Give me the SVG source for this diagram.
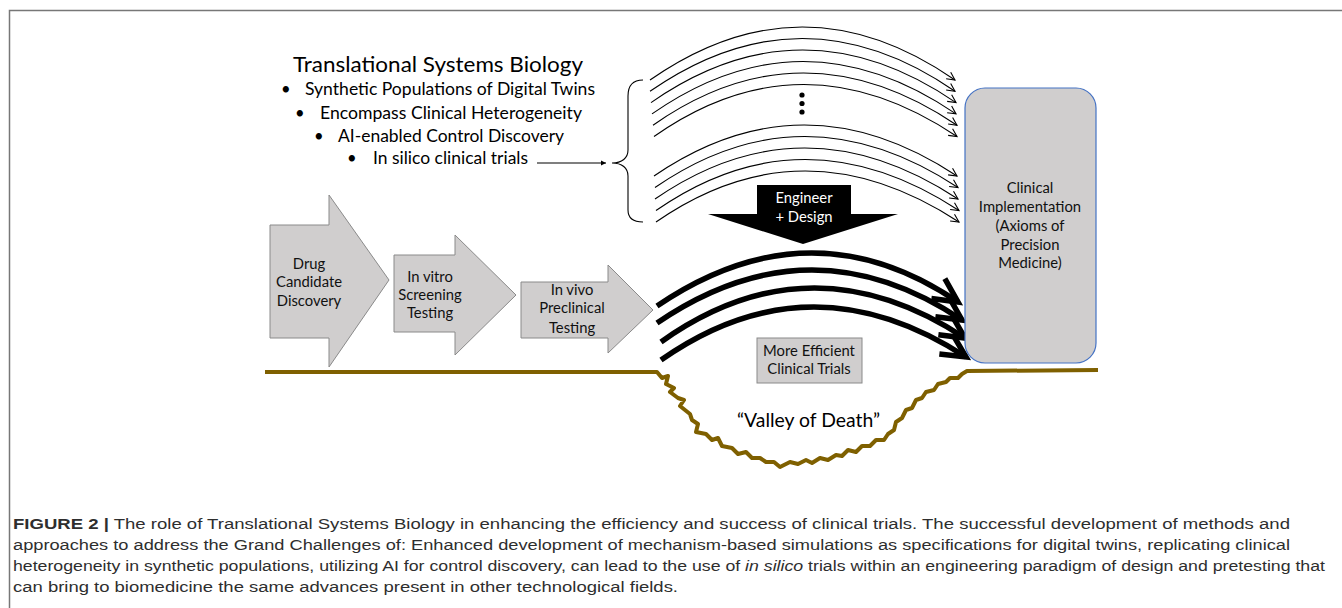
<svg xmlns="http://www.w3.org/2000/svg" width="1342" height="608" viewBox="0 0 1342 608">
<style>
.t{font-family:Lato,"Open Sans","Liberation Sans",sans-serif;fill:#000}
.lbl{font-family:Lato,"Open Sans","Liberation Sans",sans-serif;font-size:14.8px;fill:#111;text-anchor:middle}
.cap{font-family:"Liberation Sans",Arial,sans-serif;font-size:15.5px;fill:#2e2e2e}
.gbox{fill:#d0cece;stroke:#8a8a8a;stroke-width:1}
.thin{fill:none;stroke:#000;stroke-width:1.1;marker-end:url(#ah)}
.thick{fill:none;stroke:#000;stroke-width:5.5;marker-end:url(#ahT)}
.ground{fill:none;stroke:#7f6000;stroke-width:4;stroke-linejoin:round}
</style>
<defs>
<marker id="ah" markerUnits="userSpaceOnUse" markerWidth="14" markerHeight="12" viewBox="-10 -6 12 12" refX="0" refY="0" orient="auto">
<path d="M-8,-4 L0,0 L-8,4" fill="none" stroke="#000" stroke-width="1.1"/>
</marker>
<marker id="ahs" markerUnits="userSpaceOnUse" markerWidth="8" markerHeight="8" viewBox="-6 -4 8 8" refX="0" refY="0" orient="auto">
<path d="M-5,-2.5 L0,0 L-5,2.5 Z" fill="#000"/>
</marker>
<marker id="ahT" markerUnits="userSpaceOnUse" markerWidth="34" markerHeight="34" viewBox="-28 -17 34 34" refX="0" refY="0" orient="auto">
<path d="M-24,-12 L0,0 L-24,12" fill="none" stroke="#000" stroke-width="5.5" stroke-linejoin="miter"/>
</marker>
</defs>
<rect width="1342" height="608" fill="#fff"/>
<path d="M9.5,608 V10.5 H1342" fill="none" stroke="#777" stroke-width="1.5"/>

<g id="tsb-text">
<text class="t" x="293" y="72" font-size="22" textLength="290" lengthAdjust="spacingAndGlyphs">Translational Systems Biology</text>
<text class="t" x="281" y="95" font-size="16.6">•</text>
<text class="t" x="305" y="95" font-size="16.6" textLength="290" lengthAdjust="spacingAndGlyphs">Synthetic Populations of Digital Twins</text>
<text class="t" x="295" y="119" font-size="16.6">•</text>
<text class="t" x="320" y="119" font-size="16.6" textLength="262" lengthAdjust="spacingAndGlyphs">Encompass Clinical Heterogeneity</text>
<text class="t" x="314" y="142" font-size="16.6">•</text>
<text class="t" x="338" y="142" font-size="16.6" textLength="226" lengthAdjust="spacingAndGlyphs">AI-enabled Control Discovery</text>
<text class="t" x="347" y="164" font-size="16.6">•</text>
<text class="t" x="373" y="164" font-size="16.6" textLength="155" lengthAdjust="spacingAndGlyphs">In silico clinical trials</text>
</g>

<g id="bracket">
<path d="M643,80 C633,80 628,86 628,96 L628,150 C628,158 622,163 612,163 C622,163 628,168 628,176 L628,210 C628,218 633,222 643,222" fill="none" stroke="#000" stroke-width="1.1"/>
</g>

<g id="dots">
<circle cx="802" cy="95" r="2.6" fill="#000"/>
<circle cx="802" cy="103.5" r="2.6" fill="#000"/>
<circle cx="802" cy="112" r="2.6" fill="#000"/>
</g>

<g id="connectors">
<line x1="537" y1="163" x2="606" y2="163" stroke="#000" stroke-width="1.1" marker-end="url(#ahs)"/>
<path class="thin" d="M650,80 Q802,-26 955,80"/>
<path class="thin" d="M650,91.3 Q802,-14.3 955,91.3"/>
<path class="thin" d="M651,102.6 Q802,-2.6 956,102.6"/>
<path class="thin" d="M652,113.9 Q802,9.1 956,113.9"/>
<path class="thin" d="M653,125.2 Q802,20.8 957,125.2"/>
<path class="thin" d="M654,136.5 Q802,32.5 957,136.5"/>
<path class="thin" d="M654,176 Q803,74 957,176"/>
<path class="thin" d="M655,187.5 Q803,85.5 958,187.5"/>
<path class="thin" d="M655,199 Q803,97 958,199"/>
<path class="thin" d="M656,210.5 Q803,108.5 959,210.5"/>
<path class="thin" d="M656,222 Q803,120 959,222"/>
<path class="thick" d="M657,306 Q810,202 958,302"/>
<path class="thick" d="M657,323 Q810,218.5 962,320"/>
<path class="thick" d="M661,342 Q810,236 965,338"/>
<path class="thick" d="M661,360 Q810,255.5 966,357"/>
</g>

<g id="engineer-design">
<path d="M757,185 H851 V214 H898 L803,244 L708,214 H757 Z" fill="#000"/>
<text class="lbl" x="804" y="203" style="fill:#fff">Engineer</text>
<text class="lbl" x="804" y="222" style="fill:#fff">+ Design</text>
</g>

<g id="drug-discovery">
<path class="gbox" d="M270,225 H329 V195 L389,280 L329,367 V338 H270 Z"/>
<text class="lbl" x="309" y="269">Drug</text>
<text class="lbl" x="309" y="287">Candidate</text>
<text class="lbl" x="309" y="306">Discovery</text>
</g>

<g id="in-vitro">
<path class="gbox" d="M394,255 H455 V235 L516,295 L455,355 V332 H394 Z"/>
<text class="lbl" x="430" y="282">In vitro</text>
<text class="lbl" x="430" y="300">Screening</text>
<text class="lbl" x="430" y="318">Testing</text>
</g>

<g id="in-vivo">
<path class="gbox" d="M521,282 H608 V265 L653,310 L608,353 V338 H521 Z"/>
<text class="lbl" x="572" y="295">In vivo</text>
<text class="lbl" x="572" y="313">Preclinical</text>
<text class="lbl" x="572" y="333">Testing</text>
</g>

<g id="clinical-implementation">
<rect x="965" y="88" width="131" height="275" rx="20" ry="20" fill="#d0cece" stroke="#4472c4" stroke-width="1.2"/>
<text class="lbl" x="1030" y="193">Clinical</text>
<text class="lbl" x="1030" y="212">Implementation</text>
<text class="lbl" x="1030" y="231">(Axioms of</text>
<text class="lbl" x="1030" y="250">Precision</text>
<text class="lbl" x="1030" y="268">Medicine)</text>
</g>

<g id="more-efficient">
<rect class="gbox" x="757" y="338" width="105" height="45"/>
<text class="lbl" x="809" y="356">More Efficient</text>
<text class="lbl" x="809" y="374">Clinical Trials</text>
</g>

<g id="valley">
<path class="ground" d="M265,372 H657 L662,378 L668,376 L666,384 L674,388 L670,392 L678,398 L684,400 L680,406 L690,414 L692,420 L698,424 L696,432 L706,434 L712,440 L718,438 L722,446 L732,448 L738,454 L746,452 L752,458 L760,458 L766,462 L774,462 L780,467 L790,462 L798,464 L806,460 L812,463 L820,458 L828,460 L836,455 L842,456 L848,450 L856,452 L862,446 L870,446 L876,440 L884,440 L888,434 L894,430 L896,422 L902,418 L906,410 L912,408 L916,400 L922,398 L926,392 L934,390 L938,384 L946,382 L950,378 L958,378 L962,374 L967,371 L1098,370"/>
<text class="t" x="737" y="427" font-size="19" textLength="143" lengthAdjust="spacingAndGlyphs">“Valley of Death”</text>
</g>

<g id="caption">
<text class="cap" x="13" y="529" textLength="1277" lengthAdjust="spacingAndGlyphs"><tspan font-weight="bold">FIGURE 2 |</tspan> The role of Translational Systems Biology in enhancing the efficiency and success of clinical trials. The successful development of methods and</text>
<text class="cap" x="13" y="550" textLength="1277" lengthAdjust="spacingAndGlyphs">approaches to address the Grand Challenges of: Enhanced development of mechanism-based simulations as specifications for digital twins, replicating clinical</text>
<text class="cap" x="13" y="571" textLength="1312" lengthAdjust="spacingAndGlyphs">heterogeneity in synthetic populations, utilizing AI for control discovery, can lead to the use of <tspan font-style="italic">in silico</tspan> trials within an engineering paradigm of design and pretesting that</text>
<text class="cap" x="13" y="592" textLength="665" lengthAdjust="spacingAndGlyphs">can bring to biomedicine the same advances present in other technological fields.</text>
</g>
</svg>
